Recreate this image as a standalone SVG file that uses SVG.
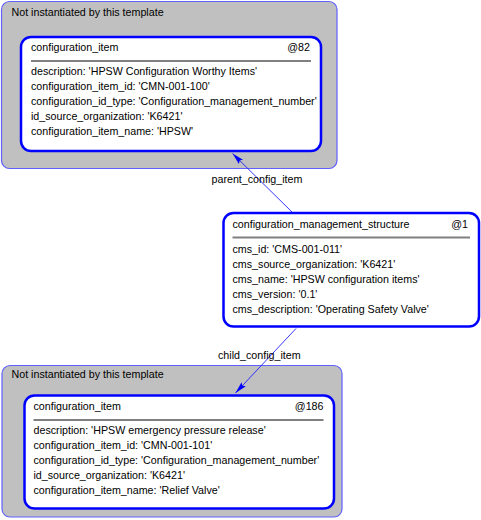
<svg xmlns="http://www.w3.org/2000/svg" width="481" height="520" viewBox="0 0 481 520">
<style>
.grp{fill:#c0c0c0;stroke:#6060ff;stroke-width:1.2}
.node{fill:#fff;stroke:#0000ff;stroke-width:2.5}
.sep{stroke:#808080;stroke-width:2}
text{font-family:"Liberation Sans",Arial,sans-serif;font-size:10.7px;fill:#000}
.r{text-anchor:end}
.edge{stroke:#2020ff;stroke-width:0.9;fill:none}
</style>
<defs>
<marker id="ah" viewBox="0 0 12 8" refX="12" refY="4" markerWidth="12" markerHeight="8" markerUnits="userSpaceOnUse" orient="auto">
<path d="M0,1 L12,4 L0,7 L2,4 Z" fill="#0000ff"/>
</marker>
</defs>
<rect width="481" height="520" fill="#fff"/>
<g id="group-top">
<rect class="grp" x="1.5" y="1.5" width="335.5" height="167" rx="8"/>
<text x="11.5" y="16">Not instantiated by this template</text>
</g>
<g id="node-82">
<rect class="node" x="21" y="37" width="300" height="114" rx="10"/>
<text x="31" y="51">configuration_item</text>
<text class="r" x="310" y="51">@82</text>
<line class="sep" x1="31" y1="61" x2="311" y2="61"/>
<text x="31" y="75">description: 'HPSW Configuration Worthy Items'</text>
<text x="31" y="90">configuration_item_id: 'CMN-001-100'</text>
<text x="31" y="105">configuration_id_type: 'Configuration_management_number'</text>
<text x="31" y="120">id_source_organization: 'K6421'</text>
<text x="31" y="135">configuration_item_name: 'HPSW'</text>
</g>
<g id="node-1">
<rect class="node" x="223.5" y="213" width="255.5" height="113.5" rx="10"/>
<text x="232.5" y="227.5">configuration_management_structure</text>
<text class="r" x="468" y="227.5">@1</text>
<line class="sep" x1="232.5" y1="237.5" x2="470" y2="237.5"/>
<text x="232.5" y="252.5">cms_id: 'CMS-001-011'</text>
<text x="232.5" y="267.5">cms_source_organization: 'K6421'</text>
<text x="232.5" y="282.5">cms_name: 'HPSW configuration items'</text>
<text x="232.5" y="297.5">cms_version: '0.1'</text>
<text x="232.5" y="312.5">cms_description: 'Operating Safety Valve'</text>
</g>
<g id="group-bottom">
<rect class="grp" x="2" y="365.5" width="340" height="151.5" rx="8"/>
<text x="11.5" y="378">Not instantiated by this template</text>
</g>
<g id="node-186">
<rect class="node" x="24.5" y="395.5" width="309.5" height="113" rx="10"/>
<text x="33.5" y="410">configuration_item</text>
<text class="r" x="323.5" y="410">@186</text>
<line class="sep" x1="33.5" y1="420" x2="323.5" y2="420"/>
<text x="33.5" y="434">description: 'HPSW emergency pressure release'</text>
<text x="33.5" y="449">configuration_item_id: 'CMN-001-101'</text>
<text x="33.5" y="464">configuration_id_type: 'Configuration_management_number'</text>
<text x="33.5" y="479">id_source_organization: 'K6421'</text>
<text x="33.5" y="494">configuration_item_name: 'Relief Valve'</text>
</g>
<g id="connectors">
<line class="edge" x1="292" y1="212" x2="232.5" y2="153.5" marker-end="url(#ah)"/>
<text x="211.5" y="182.5">parent_config_item</text>
<line class="edge" x1="296" y1="328.5" x2="235.5" y2="393" marker-end="url(#ah)"/>
<text x="218" y="359">child_config_item</text>
</g>
</svg>
